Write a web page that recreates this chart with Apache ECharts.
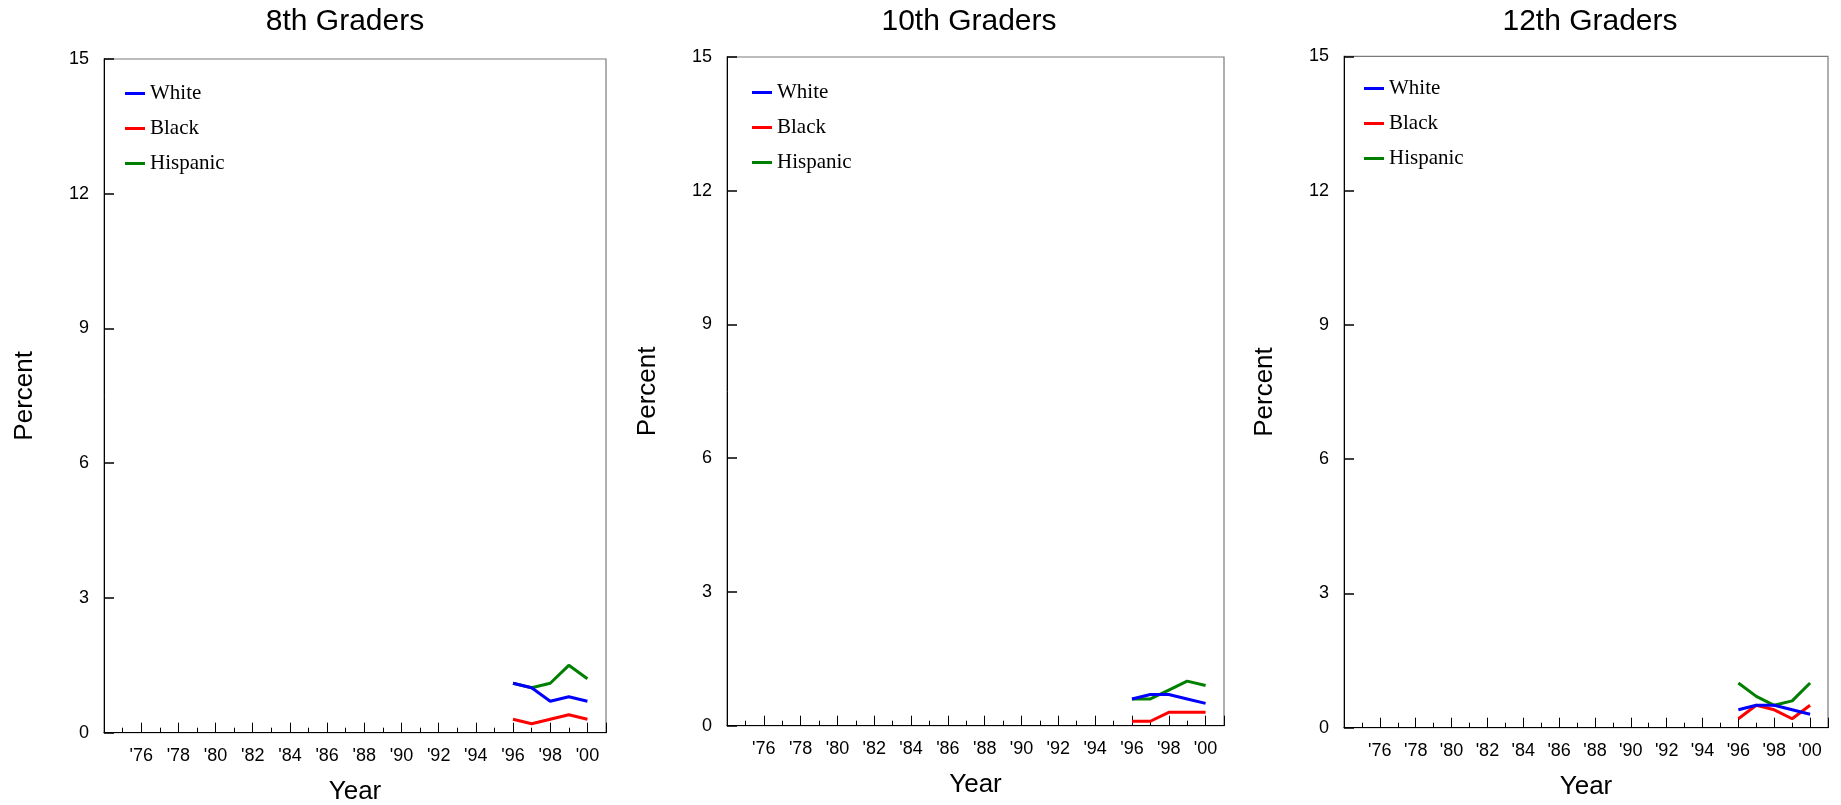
<!DOCTYPE html>
<html>
<head>
<meta charset="utf-8">
<script src="https://cdn.jsdelivr.net/npm/echarts@6/dist/echarts.min.js"></script>
<style>
html,body{margin:0;padding:0;background:#fff;}
#chart{width:1841px;height:805px;}
</style>
</head>
<body>
<div id="chart"></div>
<script>
// ---- data ----
const years = [1996, 1997, 1998, 1999, 2000];
const panelTitles = ['8th Graders', '10th Graders', '12th Graders'];
const groupNames = ['White', 'Black', 'Hispanic'];
const white8 = [1.1, 1.0, 0.7, 0.8, 0.7];
const black8 = [0.3, 0.2, 0.3, 0.4, 0.3];
const hisp8 = [1.1, 1.0, 1.1, 1.5, 1.2];
const white10 = [0.6, 0.7, 0.7, 0.6, 0.5];
const black10 = [0.1, 0.1, 0.3, 0.3, 0.3];
const hisp10 = [0.6, 0.6, 0.8, 1.0, 0.9];
const white12 = [0.4, 0.5, 0.5, 0.4, 0.3];
const black12 = [0.2, 0.5, 0.4, 0.2, 0.5];
const hisp12 = [1.0, 0.7, 0.5, 0.6, 1.0];
const yTicks = [0, 3, 6, 9, 12, 15];
const xMin = 1974, xMax = 2001;

// ---- layout ----
const grids = [
  {left: 104, top: 59, width: 502, height: 673.7},
  {left: 727, top: 57, width: 497, height: 668.7},
  {left: 1344, top: 56.3, width: 484, height: 671.4}
];
const titleX = [345, 969, 1590];
const legendPos = [{left: 125, top: 82}, {left: 752, top: 81}, {left: 1364, top: 77}];
const colors = {White: '#0000ff', Black: '#ff0000', Hispanic: '#008000'};
const panelData = [
  {White: white8, Black: black8, Hispanic: hisp8},
  {White: white10, Black: black10, Hispanic: hisp10},
  {White: white12, Black: black12, Hispanic: hisp12}
];

const sans = '"Liberation Sans", Arial, sans-serif';
const serif = '"Liberation Serif", "Times New Roman", serif';

const xAxes = [], yAxes = [], series = [], legends = [], graphics = [];
grids.forEach((g, i) => {
  // minor/label axis (every year)
  xAxes.push({
    type: 'value', gridIndex: i, min: xMin, max: xMax, interval: 1,
    position: 'bottom',
    name: 'Year', nameLocation: 'middle', nameGap: 46,
    nameTextStyle: {fontFamily: sans, fontSize: 26, color: '#000'},
    axisLine: {show: true, lineStyle: {color: '#000', width: 1}},
    axisTick: {show: true, inside: true, length: 5, lineStyle: {color: '#000', width: 1}},
    axisLabel: {
      show: true, margin: 14, fontFamily: sans, fontSize: 18, color: '#000',
      formatter: v => (v % 2 === 0 && v >= 1976 && v <= 2000) ? "'" + String(v).slice(2) : ''
    },
    splitLine: {show: false}
  });
  // major tick axis (even years)
  xAxes.push({
    type: 'value', gridIndex: i, min: xMin, max: xMax, interval: 2,
    position: 'bottom',
    axisLine: {show: false},
    axisTick: {show: true, inside: true, length: 10, lineStyle: {color: '#000', width: 1}},
    axisLabel: {show: false},
    splitLine: {show: false}
  });
  yAxes.push({
    type: 'value', gridIndex: i, min: yTicks[0], max: yTicks[yTicks.length - 1],
    interval: yTicks[1] - yTicks[0],
    name: 'Percent', nameLocation: 'middle', nameGap: 66,
    nameTextStyle: {fontFamily: sans, fontSize: 26, color: '#000'},
    axisLine: {show: true, lineStyle: {color: '#000', width: 1}},
    axisTick: {show: true, inside: true, length: 10, lineStyle: {color: '#000', width: 1.5}},
    axisLabel: {margin: 15, fontFamily: sans, fontSize: 18, color: '#000'},
    splitLine: {show: false}
  });
  ['Hispanic', 'Black', 'White'].forEach(name => {
    series.push({
      name: name, type: 'line',
      xAxisIndex: i * 2, yAxisIndex: i,
      data: years.map((y, k) => [y, panelData[i][name][k]]),
      symbol: 'none', showSymbol: false,
      lineStyle: {color: colors[name], width: 3},
      itemStyle: {color: colors[name]},
      z: 3, animation: false
    });
  });
  legends.push({
    data: groupNames, orient: 'vertical',
    left: legendPos[i].left, top: legendPos[i].top,
    icon: 'rect', itemWidth: 20, itemHeight: 3, itemGap: 12,
    padding: 0, selectedMode: false,
    textStyle: {fontFamily: serif, fontSize: 21, color: '#000', lineHeight: 23}
  });
  graphics.push({
    type: 'text', x: titleX[i], y: 22,
    style: {
      text: panelTitles[i], font: '30px ' + sans, fill: '#000',
      textAlign: 'center', textVerticalAlign: 'middle',
      align: 'center', verticalAlign: 'middle'
    }
  });
});

const chart = echarts.init(document.getElementById('chart'), null, {renderer: 'canvas'});
chart.setOption({
  backgroundColor: '#fff',
  animation: false,
  grid: grids.map(g => Object.assign({
    show: true, borderColor: '#7a7a7a', borderWidth: 1.2, backgroundColor: 'transparent',
    containLabel: false, outerBoundsMode: 'none'
  }, g)),
  xAxis: xAxes,
  yAxis: yAxes,
  legend: legends,
  series: series,
  graphic: graphics
});
</script>
</body>
</html>
